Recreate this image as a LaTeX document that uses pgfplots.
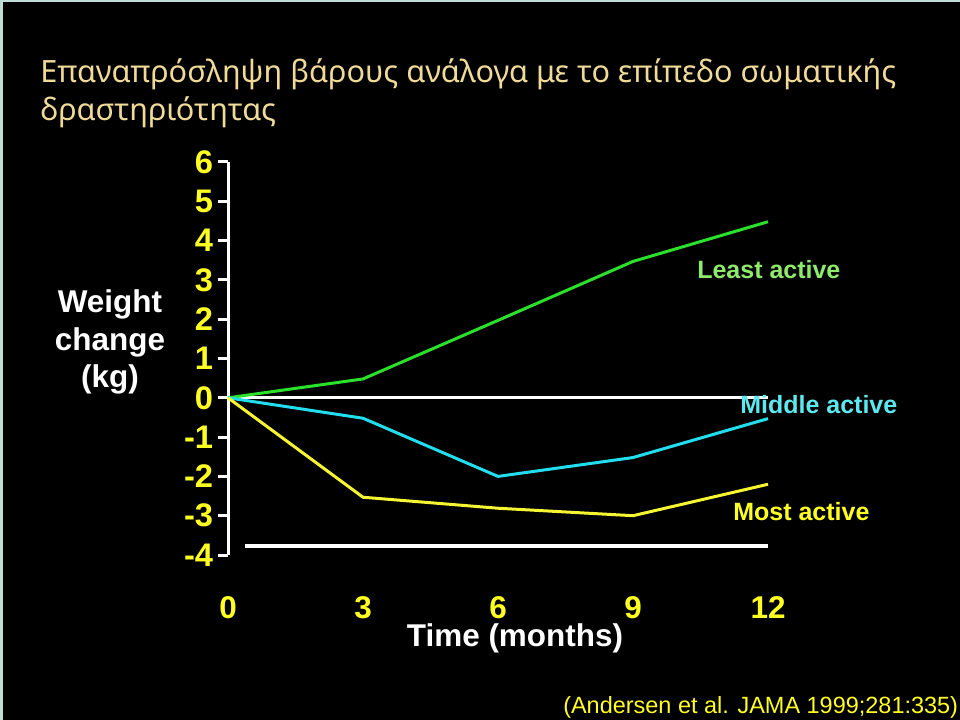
\documentclass[border=0pt]{standalone}
\usepackage{pgfplots}
\pgfplotsset{compat=1.18}
\usepackage{fontspec}
\setmainfont{Liberation Sans}
\newfontfamily\titlefont{Noto Sans}
\definecolor{titlecol}{HTML}{F0DA98}
\definecolor{edgecol}{HTML}{BFDCD6}
\definecolor{lgreen}{HTML}{2BE02B}
\definecolor{lcyan}{HTML}{22DDEE}
\definecolor{lyellow}{HTML}{F5F532}
\definecolor{tgreen}{HTML}{8EEA6A}
\definecolor{tcyan}{HTML}{5CE8EE}
\definecolor{tyellow}{HTML}{FFFF22}
\begin{document}
\begin{tikzpicture}
\begin{scope}[x=0.75pt,y=0.75pt]
\fill[black] (0,0) rectangle (960,-720);
\fill[edgecol] (0,0) rectangle (3,-720);
\fill[edgecol] (0,0) rectangle (960,-2);
% title
\node[anchor=base west, inner sep=0pt, text=titlecol, font=\titlefont\fontsize{23pt}{27pt}\selectfont] at (40,-83) {Επαναπρόσληψη βάρους ανάλογα με το επίπεδο σωματικής};
\node[anchor=base west, inner sep=0pt, text=titlecol, font=\titlefont\fontsize{23pt}{27pt}\selectfont] at (40,-121) {δραστηριότητας};
% y label
\node[anchor=base, inner sep=0pt, text=white, font=\bfseries\fontsize{23.6pt}{28pt}\selectfont] at (110,-312) {Weight};
\node[anchor=base, inner sep=0pt, text=white, font=\bfseries\fontsize{23.6pt}{28pt}\selectfont] at (110,-350) {change};
\node[anchor=base, inner sep=0pt, text=white, font=\bfseries\fontsize{23.6pt}{28pt}\selectfont] at (110,-387) {(kg)};
% x label
\node[anchor=base, inner sep=0pt, text=white, font=\bfseries\fontsize{23.6pt}{28pt}\selectfont] at (515,-646) {Time (months)};
% citation
\node[anchor=base west, inner sep=0pt, text=tyellow, font=\fontsize{17.6pt}{21pt}\selectfont] at (563,-713) {(Andersen et al. JAMA 1999;281:335)};
\end{scope}
\begin{axis}[
  at={(171pt,-416.25pt)}, anchor=south west,
  scale only axis, width=405pt, height=294.75pt,
  xmin=0, xmax=12, ymin=-4, ymax=6,
  clip=false,
  axis x line*=bottom, axis y line*=left,
  x axis line style={draw=none},
  y axis line style={white, line width=2.25pt, -},
  xtick={0,3,6,9,12}, xticklabels={0,3,6,9,12},
  ytick={-4,-3,-2,-1,0,1,2,3,4,5,6},
  yticklabels={-4,-3,-2,-1,0,1,2,3,4,5,6},
  xtick style={draw=none},
  ytick style={white, line width=2.25pt},
  tick align=outside,
  major tick length=7.5pt,
  xticklabel style={anchor=base, inner sep=0pt, yshift=-39.75pt, text=tyellow, font=\bfseries\fontsize{23.6pt}{28pt}\selectfont},
  yticklabel style={anchor=east, inner sep=0pt, xshift=-3.5pt, text=tyellow, font=\bfseries\fontsize{24.5pt}{28pt}\selectfont},
]
\addplot[white, line width=2.25pt] coordinates {(0,0) (12,0)};
\addplot[white, line width=3pt] coordinates {(0.38,-3.77) (12,-3.77)};
\addplot[lgreen, line width=2.25pt] coordinates {(0,0) (3,0.48) (6,1.97) (9,3.47) (12,4.48)};
\addplot[lcyan, line width=2.25pt] coordinates {(0,0) (3,-0.52) (6,-2.0) (9,-1.52) (12,-0.53)};
\addplot[lyellow, line width=2.25pt] coordinates {(0,0) (3,-2.53) (6,-2.81) (9,-3.0) (12,-2.2)};
\end{axis}
\begin{scope}[x=0.75pt,y=0.75pt]
\node[anchor=base west, inner sep=0pt, text=tgreen, font=\bfseries\fontsize{18.75pt}{22pt}\selectfont] at (697,-279) {Least active};
\node[anchor=base west, inner sep=0pt, text=tcyan, font=\bfseries\fontsize{18.75pt}{22pt}\selectfont] at (740,-413) {Middle active};
\node[anchor=base west, inner sep=0pt, text=tyellow, font=\bfseries\fontsize{18.75pt}{22pt}\selectfont] at (733,-520) {Most active};
\end{scope}
\end{tikzpicture}
\end{document}
